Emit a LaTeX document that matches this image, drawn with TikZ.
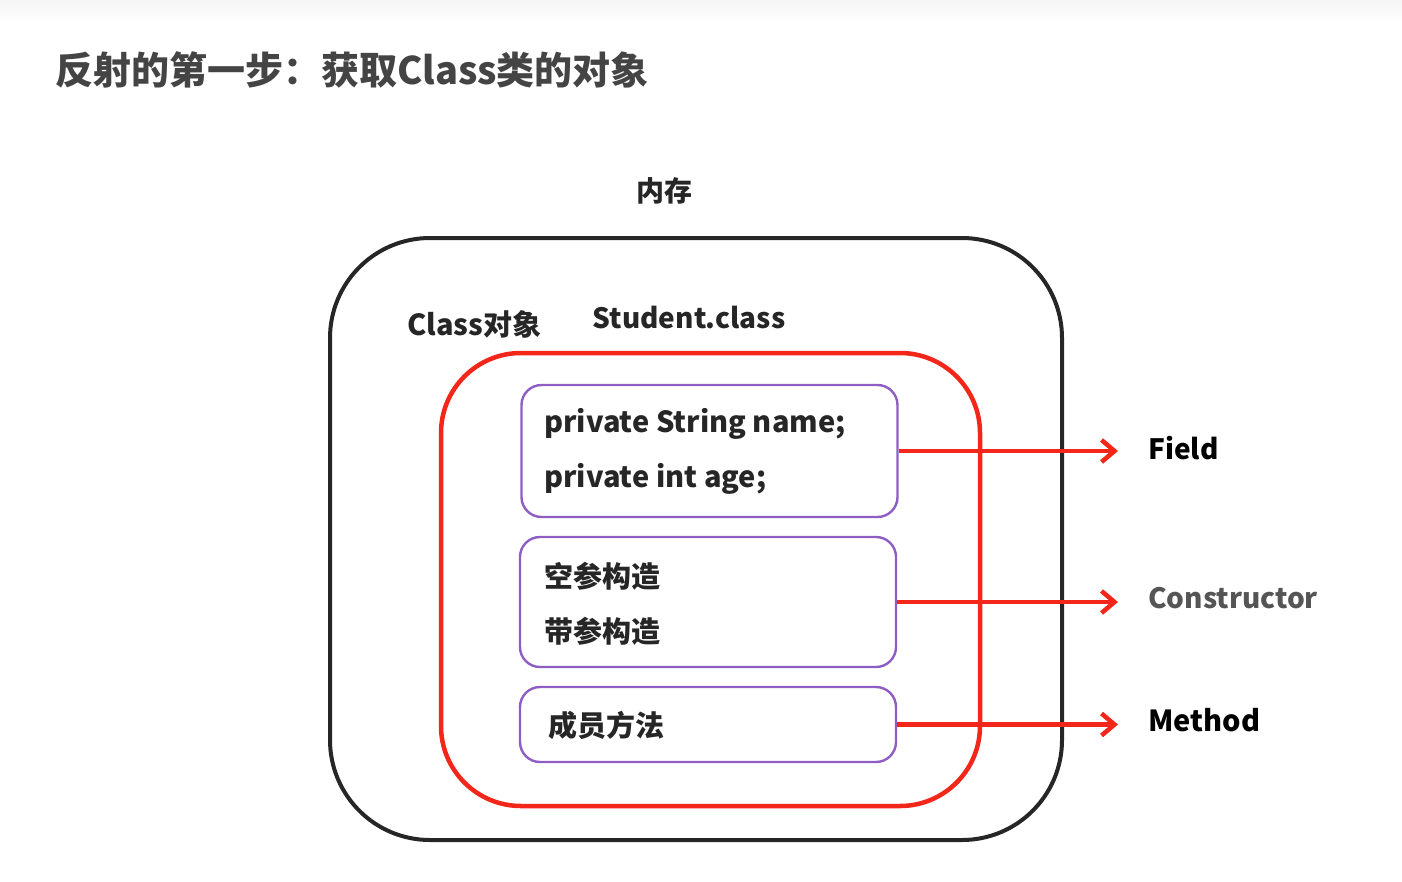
\documentclass[tikz,border=0pt]{standalone}
\usepackage{fontspec}
\setmainfont{Noto Sans CJK SC}
\usetikzlibrary{arrows.meta}
\definecolor{redline}{HTML}{F3261A}
\definecolor{purp}{HTML}{8E5EC4}
\definecolor{dark}{HTML}{262626}
\definecolor{titlegray}{HTML}{444444}
\definecolor{consgray}{HTML}{555555}
\begin{document}
\begin{tikzpicture}[x=1pt,y=-1pt,
  txt/.style={font=\bfseries\fontsize{28}{34}\selectfont, inner sep=0pt, text=dark},
  intxt/.style={txt, font=\bfseries\fontsize{29}{35}\selectfont},
  membox/.style={draw=dark, line width=4pt, rounded corners=100pt, minimum width=732pt, minimum height=602pt, inner sep=0pt},
  clsbox/.style={draw=redline, line width=4.5pt, rounded corners=80pt, minimum width=539pt, minimum height=453pt, inner sep=0pt},
  itembox/.style={draw=purp, line width=2.4pt, rounded corners=20pt, minimum width=376pt, inner sep=0pt},
  arr/.style={draw=redline, line width=4.5pt, -{Straight Barb[length=13pt,width=22pt]}}
]
\useasboundingbox (0,0) rectangle (1402,881);
\shade[top color=black!4, bottom color=white] (0,0) rectangle (1402,22);
% title
\node[txt, anchor=west, text=titlegray, font=\bfseries\fontsize{38}{45}\selectfont] (title) at (55,70) {反射的第一步：获取Class类的对象};
\node[txt, text=dark] (memlabel) at (664,191) {内存};
% boxes
\node[membox] (mem) at (696,539) {};
\node[clsbox] (cls) at (710.5,579.5) {};
\node[intxt, anchor=west] (clsobj) at (407,324) {Class对象};
\node[txt] (stu) at (689,318) {Student.class};
\node[itembox, minimum height=132pt] (b1) at (709.5,451) {};
\node[itembox, minimum height=130pt] (b2) at (708,602) {};
\node[itembox, minimum height=75pt] (b3) at (708,724.5) {};
% texts inside
\node[intxt, anchor=west] (t1) at (544,424) {private String name;};
\node[intxt, anchor=west] (t2) at (544,479) {private int age;};
\node[intxt, anchor=west] (t3) at (544,576) {空参构造};
\node[intxt, anchor=west] (t4) at (544,631) {带参构造};
\node[intxt, anchor=west] (t5) at (548,725) {成员方法};
% labels
\node[txt, anchor=west, text=black] (field) at (1148,448) {Field};
\node[txt, anchor=west, text=consgray] (cons) at (1148,598) {Constructor};
\node[intxt, anchor=west, text=black] (meth) at (1148,720) {Method};
\coordinate (e1) at (1118,451);
\coordinate (e2) at (1118,602);
\coordinate (e3) at (1118,724.5);
\draw[arr] (b1.east) -- (e1);
\draw[arr] (b2.east) -- (e2);
\draw[arr] (b3.east) -- (e3);
\end{tikzpicture}
\end{document}
